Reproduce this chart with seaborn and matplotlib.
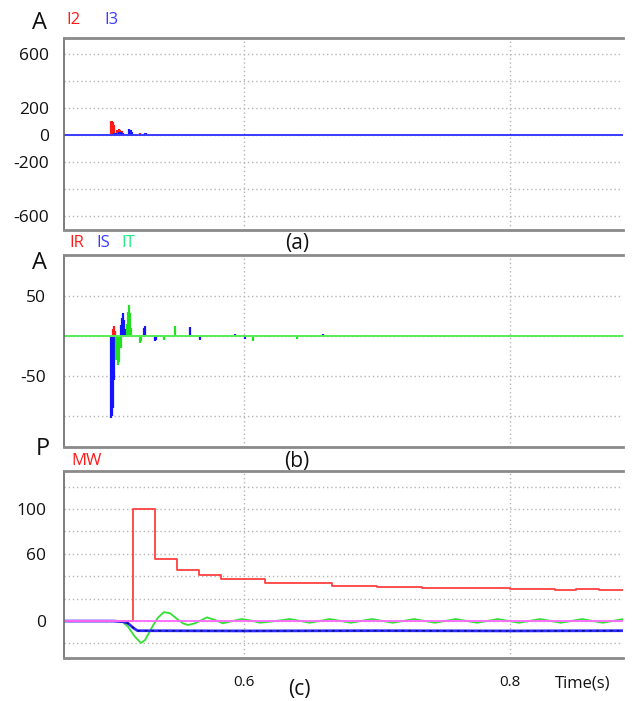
import numpy as np
import pandas as pd
import seaborn as sns
import matplotlib.pyplot as plt

sns.set_theme(style='white')
plt.rcParams['font.family'] = ['Open Sans', 'DejaVu Sans']

# rentang waktu (s)
t_span = [0.4647, 0.885]
base_zero = [0, 0]

# (a) arus I2 / I3 (A)
a_red_t = [0.5000, 0.5008, 0.5015, 0.5023, 0.5049, 0.5060, 0.5071, 0.5083, 0.5218, 0.5331, 0.5406, 0.5669, 0.6068, 0.6406]
a_red_v = [104, 100, 95, 74, 40, 44, 38, 30, 12, 8, 5, 5, 5, 4]
a_blue_t = [0.5026, 0.5038, 0.5064, 0.5075, 0.5090, 0.5135, 0.5147, 0.5158, 0.5256, 0.5267, 0.5481, 0.5594]
a_blue_v = [12, 15, 20, 22, 15, 42, 35, 20, 15, 12, 8, 8]

# (b) arus IR / IS / IT (A)
b_red_t = [0.5015, 0.5023, 0.5030]
b_red_v = [8, 12.5, 6]
b_blue_t = [0.5000, 0.5008, 0.5015, 0.5023, 0.5034, 0.5068, 0.5075, 0.5083, 0.5090, 0.5098, 0.5105,
            0.5173, 0.5248, 0.5259, 0.5331, 0.5342, 0.5594, 0.5669, 0.5932, 0.6008, 0.6180, 0.6511,
            0.6594, 0.6850, 0.6925, 0.7504, 0.7842, 0.8180]
b_blue_v = [-103, -100, -90, -55, -8, -5, 13, 22, 28, 20, 8,
            -2, 10, 12, -7, -5, 11, -5, 2, -4, -1.5, -2,
            2, -1, 1, -2, -2, -1]
b_green_t = [0.5038, 0.5045, 0.5056, 0.5064, 0.5075, 0.5117, 0.5128, 0.5135, 0.5143, 0.5150, 0.5218,
             0.5226, 0.5398, 0.5481, 0.5564, 0.5729, 0.6068, 0.6398, 0.6977, 0.7316, 0.7398, 0.8233]
b_green_v = [-30, -28, -37, -33, -15, 15, 30, 38, 28, 10, -9,
             -6, -5, 12.5, -2, 1, -6, -4, 1, 1, -1, -1]

# (c) daya MW
c_red_t = [0.4647, 0.5165, 0.5331, 0.5497, 0.5663, 0.5829, 0.6161, 0.6659, 0.7000, 0.7160, 0.7340,
           0.7500, 0.7660, 0.8000, 0.8170, 0.8340, 0.8500, 0.8670, 0.885]
c_red_v = [0, 100, 55.5, 45.5, 41.5, 37.3, 34, 31.3, 30.7, 30.3, 29.5,
           29.9, 29.1, 28.3, 29.0, 27.4, 28.3, 27.4, 27.4]
c_green_t = [0.4647, 0.5015, 0.5090, 0.5128, 0.5180, 0.5226, 0.5256, 0.5316, 0.5353, 0.5398, 0.5444,
             0.5496, 0.5541, 0.5579, 0.5632, 0.5722, 0.5782, 0.5842, 0.5910, 0.5985, 0.6053, 0.6120,
             0.6233, 0.6346, 0.6496, 0.6647, 0.6805, 0.6962, 0.7120, 0.7278, 0.7436, 0.7594, 0.7752,
             0.7910, 0.8068, 0.8226, 0.8383, 0.8541, 0.8699, 0.885]
c_green_v = [0, 0, -1, -5, -14, -19.5, -17, -4, 3, 8, 7,
             2, -2, -3.5, -2, 3.3, 1, -2, 0, 1.8, 0.5, -1.5,
             0, 1.8, -1.5, 1.8, -1.5, 1.8, -1.5, 1.8, -1.5, 1.8, -1.5,
             1.8, -1.5, 1.8, -1.5, 1.8, -1.5, 1.8]
c_blue_t = [0.4647, 0.5015, 0.5090, 0.5128, 0.5173, 0.5200, 0.6000, 0.7000, 0.8000, 0.885]
c_blue_v = [0, 0, -0.5, -2, -6.5, -8.6, -8.8, -8.6, -8.8, -8.6]

fig = plt.figure(figsize=(6.35, 7.01), dpi=100)
ax_a = fig.add_axes([0.1008, 0.6719, 0.8803, 0.2732])
ax_b = fig.add_axes([0.1008, 0.3623, 0.8803, 0.2739])
ax_c = fig.add_axes([0.1008, 0.0613, 0.8803, 0.2668])

# panel a
ax_a.vlines(a_red_t, 0, a_red_v, color='#ff1a1a', lw=1.6)
ax_a.vlines(a_blue_t, 0, a_blue_v, color='#1a1aff', lw=1.6)
sns.lineplot(x=t_span, y=base_zero, ax=ax_a, color='#3a3aff', lw=1.4)
ax_a.set_ylim(-704, 715)
ax_a.set_yticks([-600, -400, -200, 0, 200, 400, 600])
ax_a.set_yticklabels(['-600', '', '-200', '0', '200', '', '600'])

# panel b
ax_b.vlines(b_blue_t, 0, b_blue_v, color='#1414ff', lw=1.6)
ax_b.vlines(b_red_t, 0, b_red_v, color='#ff1a1a', lw=1.6)
ax_b.vlines(b_green_t, 0, b_green_v, color='#22e022', lw=1.6)
sns.lineplot(x=t_span, y=base_zero, ax=ax_b, color='#55ee55', lw=1.4)
ax_b.set_ylim(-139, 101)
ax_b.set_yticks([-100, -50, 0, 50])
ax_b.set_yticklabels(['', '-50', '', '50'])

# panel c
sns.lineplot(x=c_green_t, y=c_green_v, ax=ax_c, color='#33e033', lw=1.3)
sns.lineplot(x=c_blue_t, y=c_blue_v, ax=ax_c, color='#2a2aff', lw=2.0)
ax_c.plot(c_blue_t, c_blue_v, color='#0a0a80', lw=1.0, ls=(0, (2, 3)))
sns.lineplot(x=c_red_t, y=c_red_v, ax=ax_c, color='#ff4040', lw=1.3, drawstyle='steps-post')
sns.lineplot(x=t_span, y=base_zero, ax=ax_c, color='#ff66ff', lw=1.3)
ax_c.set_ylim(-33, 134)
ax_c.set_yticks([-20, 0, 20, 40, 60, 80, 100, 120])
ax_c.set_yticklabels(['', '0', '', '', '60', '', '100', ''])

for ax, pad in [(ax_a, 11), (ax_b, 13), (ax_c, 13)]:
    ax.set_xlim(t_span)
    ax.set_xticks([0.6, 0.8])
    ax.grid(True, color='#b5b5b5', lw=1.0, ls=(0, (1, 2)))
    ax.set_axisbelow(True)
    ax.tick_params(axis='y', length=0, pad=pad, labelsize=12.5, colors='#111111')
    ax.tick_params(axis='x', length=0, pad=12, labelsize=11, colors='#111111')
    ax.spines['right'].set_visible(False)
    ax.spines['top'].set_color('#8a8a8a')
    ax.spines['top'].set_linewidth(2)
    ax.spines['bottom'].set_color('#8a8a8a')
    ax.spines['bottom'].set_linewidth(2)
    ax.spines['left'].set_color('#666666')
    ax.spines['left'].set_linewidth(1.2)
    ax.set_xlabel('')
    ax.set_ylabel('')

ax_a.set_xticklabels([])
ax_b.set_xticklabels([])
ax_c.set_xticklabels(['0.6', '0.8'])


def ftxt(x, y, s, **kw):
    fig.text(x / 635, 1 - y / 701, s, va='center', **kw)


ftxt(40, 23, 'A', ha='center', fontsize=17, color='#111111')
ftxt(66, 20, 'I2', ha='left', fontsize=12, color='#ff1a1a')
ftxt(104, 20, 'I3', ha='left', fontsize=12, color='#3a3aff')
ftxt(297, 243, '(a)', ha='center', fontsize=15, color='#111111')

ftxt(40, 263, 'A', ha='center', fontsize=17, color='#111111')
ftxt(69, 243, 'IR', ha='left', fontsize=12, color='#ff1a1a')
ftxt(96, 243, 'IS', ha='left', fontsize=12, color='#3a3aff')
ftxt(121, 243, 'IT', ha='left', fontsize=12, color='#22ee88')
ftxt(297, 461, '(b)', ha='center', fontsize=15, color='#111111')

ftxt(43, 449, 'P', ha='center', fontsize=17, color='#111111')
ftxt(71, 461, 'MW', ha='left', fontsize=12, color='#ff1a1a')
ftxt(299, 690, '(c)', ha='center', fontsize=15, color='#111111')
ftxt(555, 684, 'Time(s)', ha='left', fontsize=12, color='#111111')

fig.savefig('out.png', dpi=100)
